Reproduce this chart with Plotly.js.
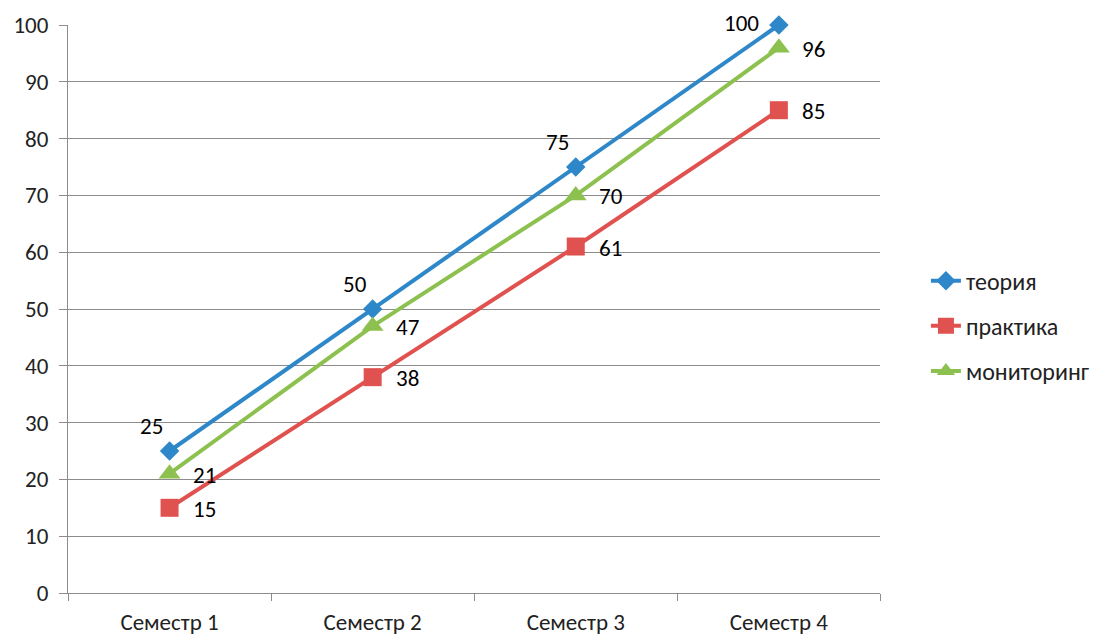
<!DOCTYPE html>
<html>
<head>
<meta charset="utf-8">
<script src="https://cdn.plot.ly/plotly-3.0.1.min.js"></script>
<style>html,body{margin:0;padding:0;background:#fff;}#chart{width:1095px;height:637px;}</style>
</head>
<body>
<div id="chart"></div>
<script>
const categories = ['Семестр 1', 'Семестр 2', 'Семестр 3', 'Семестр 4'];
const theory = [25, 50, 75, 100];
const practice = [15, 38, 61, 85];
const monitoring = [21, 47, 70, 96];
const yTicks = [0, 10, 20, 30, 40, 50, 60, 70, 80, 90, 100];

const font = 'Carlito, Calibri, "Open Sans", "Noto Sans", sans-serif';
const labelSize = 23;

const seriesDefs = [
  {name: 'теория', values: theory, color: '#2E87C9', symbol: 'diamond', size: 15, label: 'above'},
  {name: 'практика', values: practice, color: '#E05250', symbol: 'square', size: 18, label: 'right'},
  {name: 'мониторинг', values: monitoring, color: '#8DC14F', symbol: 'triangle-up', size: 19, label: 'right'}
];

const traces = seriesDefs.map((s, i) => ({
  type: 'scatter', mode: 'lines+markers',
  name: s.name, x: categories, y: s.values,
  line: {color: s.color, width: 4},
  marker: {color: s.color, symbol: s.symbol, size: s.size},
  legendgroup: 'g' + i, cliponaxis: false
}));

// value labels: "above" sits up-left of the point, "right" sits beside it;
// the last "above" label moves to the left so it stays inside the frame
const annotations = [];
seriesDefs.forEach(s => {
  s.values.forEach((v, j) => {
    const a = {x: categories[j], y: v, text: String(v), showarrow: false,
               font: {size: labelSize, color: '#000', family: font}};
    if (s.label === 'right') {
      Object.assign(a, {xanchor: 'left', yanchor: 'middle', xshift: 21, yshift: -1});
    } else if (j === s.values.length - 1) {
      Object.assign(a, {xanchor: 'right', yanchor: 'middle', xshift: -18, yshift: 2});
    } else {
      Object.assign(a, {xanchor: 'center', yanchor: 'middle', xshift: -18, yshift: 25});
    }
    annotations.push(a);
  });
});

// the plot frame spans 68..882 px; the legend lives to its right inside the paper
const layout = {
  width: 1095, height: 637,
  margin: {l: 68, r: 0, t: 25, b: 44},
  paper_bgcolor: '#fff', plot_bgcolor: '#fff',
  font: {family: font, size: labelSize, color: '#222'},
  showlegend: true,
  legend: {x: 0.837, y: 0.47, yanchor: 'middle', xanchor: 'left',
           font: {size: 24, color: '#222', family: font}, tracegroupgap: 11},
  annotations: annotations,
  xaxis: {
    type: 'category', range: [-0.5, 3.5], domain: [0, 814 / 1027],
    showgrid: false, showline: true, linecolor: '#8c8c8c', linewidth: 1,
    ticks: 'outside', tickson: 'boundaries', ticklen: 7, tickcolor: '#8c8c8c',
    ticklabelstandoff: 8,
    tickfont: {size: labelSize, color: '#222', family: font}, zeroline: false
  },
  yaxis: {
    range: [0, 100], tickvals: yTicks,
    showgrid: true, gridcolor: '#8c8c8c', gridwidth: 1,
    showline: true, linecolor: '#8c8c8c', linewidth: 1,
    ticks: 'outside', ticklen: 8, tickcolor: '#8c8c8c',
    ticklabelstandoff: 6,
    tickfont: {size: labelSize, color: '#222', family: font}, zeroline: false
  }
};

Plotly.newPlot('chart', traces, layout, {displayModeBar: false, staticPlot: true});
</script>
</body>
</html>
